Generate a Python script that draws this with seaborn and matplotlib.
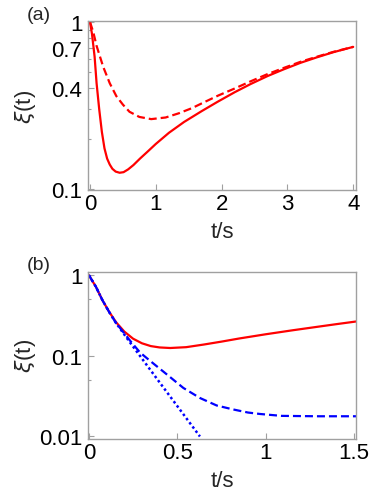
import numpy as np
import pandas as pd
import matplotlib
matplotlib.use("Agg")
import matplotlib.pyplot as plt
import seaborn as sns
from matplotlib.ticker import FixedLocator, NullFormatter, NullLocator

# ---------- data ----------
# panel (a)
ta_solid = [0, 0.03, 0.07, 0.10, 0.14, 0.18, 0.22, 0.26, 0.30, 0.34, 0.39, 0.45, 0.51,
            0.58, 0.66, 0.76, 0.88, 1.0, 1.20, 1.43, 1.70, 1.94, 2.20, 2.44, 2.70, 2.94,
            3.20, 3.45, 3.70, 4.0]
xa_solid = [1.0, 0.85, 0.62, 0.43, 0.30, 0.22, 0.175, 0.152, 0.14, 0.132, 0.127, 0.125, 0.126,
            0.131, 0.139, 0.152, 0.168, 0.186, 0.217, 0.252, 0.293, 0.333, 0.38, 0.425, 0.475,
            0.52, 0.57, 0.615, 0.66, 0.71]
ta_dash = [0, 0.05, 0.10, 0.20, 0.30, 0.40, 0.50, 0.60, 0.75, 0.93, 1.15, 1.35,
           1.55, 1.75, 1.95, 2.20, 2.45, 2.70, 2.95, 3.20, 3.45, 3.70, 4.0]
xa_dash = [1.0, 0.87, 0.72, 0.54, 0.43, 0.36, 0.32, 0.29, 0.27, 0.262, 0.268, 0.284,
           0.305, 0.333, 0.363, 0.40, 0.443, 0.488, 0.532, 0.578, 0.62, 0.663, 0.71]

# panel (b)
tb_red = [0, 0.04, 0.077, 0.115, 0.153, 0.20, 0.25, 0.30, 0.35, 0.40, 0.46, 0.55,
          0.65, 0.75, 0.85, 1.0, 1.15, 1.28, 1.40, 1.52]
xb_red = [1.0, 0.715, 0.487, 0.35, 0.262, 0.20, 0.163, 0.143, 0.132, 0.127, 0.125, 0.128,
          0.138, 0.15, 0.164, 0.185, 0.207, 0.227, 0.247, 0.268]
tb_dash = [0, 0.04, 0.077, 0.115, 0.153, 0.20, 0.232, 0.289, 0.345, 0.44, 0.534, 0.628,
           0.723, 0.817, 0.90, 0.968, 1.09, 1.30, 1.52]
xb_dash = [1.0, 0.715, 0.487, 0.348, 0.256, 0.19, 0.155, 0.11, 0.087, 0.059, 0.040, 0.030,
           0.0242, 0.0216, 0.0198, 0.019, 0.018, 0.0178, 0.0178]
tb_dot = [0, 0.04, 0.077, 0.115, 0.153, 0.232, 0.30, 0.40, 0.50, 0.628]
xb_dot = [1.0, 0.715, 0.487, 0.348, 0.256, 0.147, 0.0925, 0.0468, 0.0238, 0.0100]

xticks_a = [0, 1, 2, 3, 4]
yticks_a = [0.1, 0.4, 0.7, 1]
yticklabels_a = ["0.1", "0.4", "0.7", "1"]
yminor_a = [0.2, 0.3, 0.5, 0.6, 0.8, 0.9]
xticks_b = [0, 0.5, 1, 1.5]
xticklabels_b = ["0", "0.5", "1", "1.5"]
yticks_b = [0.01, 0.1, 1]
yticklabels_b = ["0.01", "0.1", "1"]
yminor_b = [0.05, 0.5]

# ---------- style ----------
sns.set_style("white")
plt.rcParams["font.family"] = ["Liberation Sans", "DejaVu Sans"]
plt.rcParams["mathtext.fontset"] = "dejavusans"

fig = plt.figure(figsize=(3.73, 5.02), dpi=100)
ax1 = fig.add_axes([0.236, 0.6195, 0.718, 0.336])
ax2 = fig.add_axes([0.236, 0.1235, 0.718, 0.333])

LW = 1.6
RED = "#ff0000"
BLUE = "#0000ff"
FRAME = "#a0a0a0"
FS = 16

dfa1 = pd.DataFrame({"t": ta_solid, "xi": xa_solid})
dfa2 = pd.DataFrame({"t": ta_dash, "xi": xa_dash})
sns.lineplot(data=dfa1, x="t", y="xi", ax=ax1, color=RED, lw=LW, estimator=None, sort=False)
sns.lineplot(data=dfa2, x="t", y="xi", ax=ax1, color=RED, lw=LW, estimator=None, sort=False,
             linestyle=(0, (3.6, 1.8)))

dfb1 = pd.DataFrame({"t": tb_red, "xi": xb_red})
dfb2 = pd.DataFrame({"t": tb_dash, "xi": xb_dash})
dfb3 = pd.DataFrame({"t": tb_dot, "xi": xb_dot})
sns.lineplot(data=dfb1, x="t", y="xi", ax=ax2, color=RED, lw=LW, estimator=None, sort=False)
sns.lineplot(data=dfb2, x="t", y="xi", ax=ax2, color=BLUE, lw=LW, estimator=None, sort=False,
             linestyle=(0, (3.6, 1.8)))
sns.lineplot(data=dfb3, x="t", y="xi", ax=ax2, color=BLUE, lw=1.8, estimator=None, sort=False,
             linestyle=(0, (1.0, 1.1)))

for ax in (ax1, ax2):
    ax.set_yscale("log")
    for s in ax.spines.values():
        s.set_color(FRAME)
        s.set_linewidth(1.0)
    ax.tick_params(axis="both", which="both", direction="in", color=FRAME,
                   labelsize=FS, labelcolor="black", top=False, right=False,
                   left=True, bottom=True)
    ax.tick_params(axis="both", which="major", length=4, width=0.8)
    ax.tick_params(axis="x", which="major", pad=2)
    ax.tick_params(axis="y", which="major", pad=4)
    ax.tick_params(axis="both", which="minor", length=2.5, width=0.8)
    ax.set_xlabel("t/s", fontsize=FS)
    ax.set_ylabel(r"$\xi$(t)", fontsize=FS)
    ax.yaxis.set_label_coords(-0.187, 0.5)
    ax.xaxis.set_label_coords(0.5, -0.185)

ax1.set_xlim(-0.03, 4.04)
ax1.set_ylim(0.0985, 1.01)
ax1.xaxis.set_major_locator(FixedLocator(xticks_a))
ax1.set_xticklabels([str(v) for v in xticks_a])
ax1.xaxis.set_minor_locator(NullLocator())
ax1.yaxis.set_major_locator(FixedLocator(yticks_a))
ax1.set_yticklabels(yticklabels_a)
ax1.yaxis.set_minor_locator(FixedLocator(yminor_a))
ax1.yaxis.set_minor_formatter(NullFormatter())

ax2.set_xlim(-0.005, 1.51)
ax2.set_ylim(0.0093, 1.1)
ax2.xaxis.set_major_locator(FixedLocator(xticks_b))
ax2.set_xticklabels(xticklabels_b)
ax2.xaxis.set_minor_locator(NullLocator())
ax2.yaxis.set_major_locator(FixedLocator(yticks_b))
ax2.set_yticklabels(yticklabels_b)
ax2.yaxis.set_minor_locator(FixedLocator(yminor_b))
ax2.yaxis.set_minor_formatter(NullFormatter())

fig.text(0.072, 0.970, "(a)", fontsize=14, ha="left", va="center")
fig.text(0.072, 0.472, "(b)", fontsize=14, ha="left", va="center")

fig.savefig("out.png", dpi=100)
